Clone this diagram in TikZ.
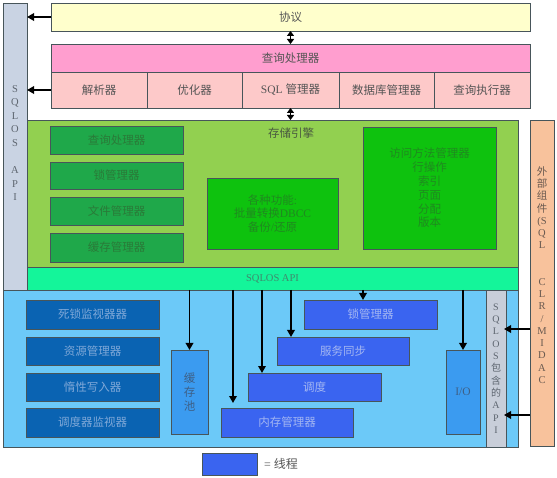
\documentclass[tikz,border=0pt]{standalone}
\usepackage{fontspec}
\setmainfont{Liberation Serif}
\newfontfamily\cjk{Noto Sans CJK SC}
\usetikzlibrary{arrows.meta,calc}
\newcommand\zhtext[1]{{\cjk #1}}
\definecolor{bord}{HTML}{47555A}
\definecolor{protoc}{HTML}{FFFFCC}
\definecolor{qpc}{HTML}{FF9ECF}
\definecolor{subc}{HTML}{FDC9C9}
\definecolor{sec}{HTML}{92D050}
\definecolor{apic}{HTML}{14F59A}
\definecolor{dgreen}{HTML}{1FA84A}
\definecolor{bgreen}{HTML}{0EC20E}
\definecolor{botc}{HTML}{6CC9F8}
\definecolor{dblue}{HTML}{0A63B2}
\definecolor{rblue}{HTML}{3A64F0}
\definecolor{mblue}{HTML}{3B9BF0}
\definecolor{gbar}{HTML}{C9D3E3}
\definecolor{gbarb}{HTML}{C8CED9}
\definecolor{peach}{HTML}{F8C29C}
\definecolor{tgray}{HTML}{555555}
\definecolor{tdg}{HTML}{2A7A38}
\definecolor{tbg}{HTML}{1F8A1F}
\definecolor{tdb}{HTML}{7FA8D8}
\definecolor{trb}{HTML}{A3B6F2}
\definecolor{tmb}{HTML}{3E5F86}
\definecolor{tbar}{HTML}{5E6670}
\definecolor{tpeach}{HTML}{6A5A50}
\definecolor{tse}{HTML}{4A5A40}
\definecolor{tapi}{HTML}{3F8A6E}
\newcommand\mybox[7]{\node[#2, minimum width={#5pt-#3pt}, minimum height={#6pt-#4pt}] (#1) at (#3,#4) {#7};}
\begin{document}
\begin{tikzpicture}[x=1pt,y=-1pt,
  box/.style={draw=bord, line width=0.8pt, inner sep=0pt, outer sep=0pt, anchor=north west,
    font=\fontsize{11.5}{13.8}\selectfont, align=center, text=tgray},
  graybar/.style={box, fill=gbar},
  protob/.style={box, fill=protoc},
  qpb/.style={box, fill=qpc},
  subb/.style={box, fill=subc},
  seb/.style={box, fill=sec},
  apib/.style={box, fill=apic, text=tapi, font=\fontsize{10.5}{12}\selectfont},
  dgb/.style={box, fill=dgreen, text=tdg},
  bgb/.style={box, fill=bgreen, text=tbg},
  botb/.style={box, fill=botc},
  dbb/.style={box, fill=dblue, text=tdb},
  rbb/.style={box, fill=rblue, text=trb},
  mbb/.style={box, fill=mblue, text=tmb},
  apibar/.style={box, fill=gbarb, text=tbar, font=\fontsize{10}{12.3}\selectfont},
  extb/.style={box, fill=peach},
  vtext/.style={align=center, inner sep=0pt},
  arr/.style={draw=black, line width=1.7pt, -{Triangle[length=7pt,width=7.5pt]}},
  darr/.style={draw=black, line width=1.7pt, {Triangle[length=5pt,width=7pt]}-{Triangle[length=5pt,width=7pt]}}
]
\useasboundingbox (0,0) rectangle (557,478);
% backgrounds
\mybox{lbar}{graybar}{3}{3}{27}{290}{}
\node[vtext, text=tbar, font=\fontsize{10.5}{13.6}\selectfont] (lbartxt) at (15,143) {S\\Q\\L\\O\\S\\~\\A\\P\\I};
\mybox{proto}{protob}{51}{3}{530}{31}{\zhtext{协议}}
\mybox{qp}{qpb}{51}{44}{530}{72}{\zhtext{查询处理器}}
\mybox{parser}{subb}{51}{72}{147}{108}{\zhtext{解析器}}
\mybox{optim}{subb}{147}{72}{242}{108}{\zhtext{优化器}}
\mybox{sqlm}{subb}{242}{72}{339}{108}{SQL \zhtext{管理器}}
\mybox{dbm}{subb}{339}{72}{434}{108}{\zhtext{数据库管理器}}
\mybox{qexec}{subb}{434}{72}{530}{108}{\zhtext{查询执行器}}
\mybox{se}{seb}{27}{120}{518}{267}{}
\node[text=tse, font=\fontsize{11.5}{13.8}\selectfont, inner sep=0pt] (selabel) at (291,133) {\zhtext{存储引擎}};
\mybox{api}{apib}{27}{267}{518}{290}{SQLOS API}
\mybox{g1}{dgb}{50}{126}{183}{154}{\zhtext{查询处理器}}
\mybox{g2}{dgb}{50}{162}{183}{189}{\zhtext{锁管理器}}
\mybox{g3}{dgb}{50}{197}{183}{225}{\zhtext{文件管理器}}
\mybox{g4}{dgb}{50}{233}{183}{262}{\zhtext{缓存管理器}}
\mybox{func}{bgb}{207}{178}{338}{249}{\zhtext{各种功能}:\\\zhtext{批量转换}DBCC\\\zhtext{备份}/\zhtext{还原}}
\mybox{access}{bgb}{363}{127}{496}{249}{\zhtext{访问方法管理器}\\\zhtext{行操作}\\\zhtext{索引}\\\zhtext{页面}\\\zhtext{分配}\\\zhtext{版本}}
\mybox{bot}{botb}{3}{290}{518}{447}{}
\mybox{sqlapi}{apibar}{486}{290}{506}{447}{S\\Q\\L\\O\\S\\\zhtext{包}\\\zhtext{含}\\\zhtext{的}\\A\\P\\I}
\mybox{ext}{extb}{530}{120}{554}{446}{}
\node[vtext, text=tpeach, font=\fontsize{10.5}{12.24}\selectfont] (exttxt) at (542,275) {\zhtext{外}\\\zhtext{部}\\\zhtext{组}\\\zhtext{件}\\(S\\Q\\L\\~\\~\\C\\L\\R\\/\\M\\I\\D\\A\\C};
\mybox{d1}{dbb}{26}{300}{159}{329}{\zhtext{死锁监视器器}}
\mybox{d2}{dbb}{26}{337}{159}{365}{\zhtext{资源管理器}}
\mybox{d3}{dbb}{26}{373}{159}{401}{\zhtext{惰性写入器}}
\mybox{d4}{dbb}{26}{408}{159}{437}{\zhtext{调度器监视器}}
\mybox{pool}{mbb}{171}{350}{208}{434}{\zhtext{缓}\\\zhtext{存}\\\zhtext{池}}
\mybox{lock}{rbb}{304}{300}{437}{329}{\zhtext{锁管理器}}
\mybox{sync}{rbb}{277}{337}{409}{365}{\zhtext{服务同步}}
\mybox{sched}{rbb}{248}{373}{381}{401}{\zhtext{调度}}
\mybox{mem}{rbb}{221}{408}{353}{437}{\zhtext{内存管理器}}
\mybox{io}{mbb}{446}{350}{480}{434}{I/O}
\mybox{legend}{rbb}{202}{453}{257}{475}{}
\node[anchor=west, text=tgray, font=\fontsize{12}{14}\selectfont, inner sep=0pt] (legtxt) at (264,464) {= \zhtext{线程}};
% arrows
\draw[arr] (proto.west) -- (proto.west -| lbar.east);
\draw[arr] (parser.west) -- (parser.west -| lbar.east);
\draw[darr] (proto.south) -- (qp.north);
\draw[darr] (sqlm.south) -- (sqlm.south |- se.north);
\coordinate (m1) at ($(mem.north west)+(12,-5)$);
\coordinate (s1) at ($(sched.north west)+(14,0)$);
\coordinate (y1) at ($(sync.north west)+(14,0)$);
\coordinate (l1) at ($(lock.north west)+(59,0)$);
\draw[arr] (pool.north |- api.south) -- (pool.north);
\draw[arr] (m1 |- api.south) -- (m1);
\draw[arr] (s1 |- api.south) -- (s1);
\draw[arr] (y1 |- api.south) -- (y1);
\draw[arr] (l1 |- api.south) -- (l1);
\draw[arr] (io.north |- api.south) -- (io.north);
\coordinate (r1) at ($(sqlapi.north east)+(-2,39)$);
\coordinate (r2) at ($(sqlapi.north east)+(-2,125)$);
\draw[arr] (r1 -| ext.west) -- (r1);
\draw[arr] (r2 -| ext.west) -- (r2);
\end{tikzpicture}
\end{document}
